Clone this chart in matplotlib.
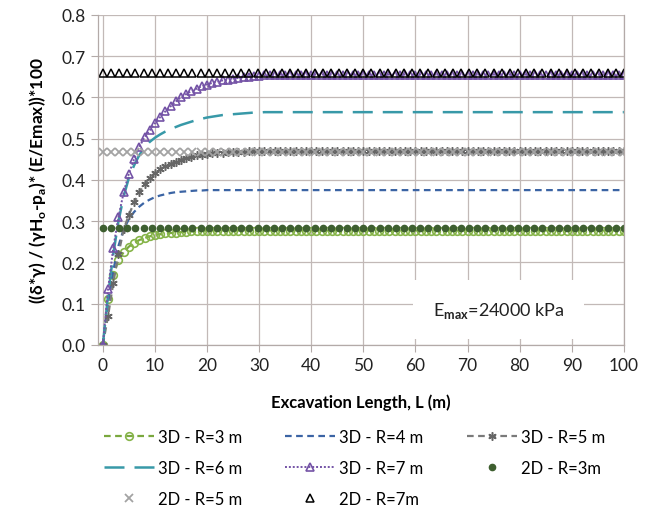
import numpy as np
import matplotlib
matplotlib.use("Agg")
import matplotlib.pyplot as plt

plt.rcParams['font.family'] = ['Lato', 'DejaVu Sans']
plt.rcParams['mathtext.fontset'] = 'custom'
plt.rcParams['mathtext.rm'] = 'Lato'
plt.rcParams['mathtext.bf'] = 'Lato:bold'

# 3D results, one point per metre of excavation
L_3d = np.arange(0, 101)
r3_rise = [0, 0.11, 0.17, 0.205, 0.225, 0.238, 0.247, 0.254, 0.259, 0.263, 0.266,
           0.268, 0.270, 0.271, 0.272, 0.273, 0.274, 0.275, 0.276, 0.276, 0.277]
r4_rise = [0, 0.10, 0.18, 0.24, 0.28, 0.305, 0.322, 0.335, 0.345, 0.352, 0.358,
           0.362, 0.365, 0.368, 0.370, 0.371, 0.372, 0.373, 0.374, 0.374, 0.375]
r5_rise = [0, 0.07, 0.15, 0.22, 0.28, 0.315, 0.345, 0.37, 0.39, 0.405, 0.417,
           0.426, 0.433, 0.439, 0.444, 0.449, 0.453, 0.456, 0.459, 0.461, 0.463,
           0.464, 0.465, 0.466, 0.467, 0.467, 0.468, 0.468, 0.469, 0.469, 0.47]
r6_rise = [0, 0.12, 0.22, 0.30, 0.36, 0.405, 0.435, 0.46, 0.478, 0.492, 0.502,
           0.51, 0.517, 0.523, 0.528, 0.533, 0.537, 0.541, 0.545, 0.548, 0.551,
           0.553, 0.555, 0.557, 0.558, 0.559, 0.56, 0.561, 0.562, 0.563, 0.563, 0.564]
r7_rise = [0, 0.135, 0.235, 0.31, 0.37, 0.415, 0.45, 0.48, 0.503, 0.52, 0.537,
           0.552, 0.566, 0.578, 0.59, 0.60, 0.608, 0.615, 0.621, 0.627, 0.631,
           0.635, 0.638, 0.641, 0.643, 0.645, 0.647, 0.649, 0.65, 0.651, 0.652,
           0.653, 0.654, 0.655]

r3_3d = r3_rise + [0.277] * (101 - len(r3_rise))
r4_3d = r4_rise + [0.375] * (101 - len(r4_rise))
r5_3d = r5_rise + [0.47] * (101 - len(r5_rise))
r6_3d = r6_rise + [0.564] * (101 - len(r6_rise))
r7_3d = r7_rise + [0.655] * (101 - len(r7_rise))

# 2D (plane strain) results, constant with L
L_2d = np.linspace(0, 100, 65)
r3_2d = [0.282] * len(L_2d)
r5_2d = [0.467] * len(L_2d)
r7_2d = [0.66] * len(L_2d)

star = (6, 2, 0)

fig = plt.figure(figsize=(6.51, 5.10), dpi=100)
ax = fig.add_axes([0.150, 0.322, 0.8083, 0.647])

h1, = ax.plot(L_3d, r3_3d, ls=(0, (3, 2)), color='#7aa83e', lw=1.6, marker='o',
              ms=5.5, mfc='none', mec='#86b449', mew=1.2, label='3D - R=3 m')
h2, = ax.plot(L_3d, r4_3d, ls=(0, (3, 2)), color='#3b64a4', lw=1.6, label='3D - R=4 m')
h3, = ax.plot(L_3d, r5_3d, ls=(0, (3, 2)), color='#7a7a7a', lw=1.6, marker=star,
              ms=6, mec='#666666', mew=1.1, label='3D - R=5 m')
h4, = ax.plot(L_3d, r6_3d, ls=(0, (8, 4)), color='#3899a8', lw=1.8, label='3D - R=6 m')
h5, = ax.plot(L_3d, r7_3d, ls=(0, (1, 1)), color='#7453a6', lw=1.4, marker='^',
              ms=6, mfc='none', mec='#7453a6', mew=1.2, label='3D - R=7 m')
h6, = ax.plot(L_2d, r3_2d, ls='none', marker='o', ms=4.5, color='#3e5f30',
              label='2D - R=3m')
h7, = ax.plot(L_2d, r5_2d, ls='none', marker='x', ms=6, mew=1.3, color='#a3a3a3',
              label='2D - R=5 m')
h8, = ax.plot(L_2d, r7_2d, ls='none', marker='^', ms=6, mfc='none', mec='black',
              mew=1.1, label='2D - R=7m')

ax.set_xlim(-1, 100)
ax.set_ylim(0, 0.8)
ax.set_xticks(np.arange(0, 101, 10))
ax.set_yticks(np.arange(0, 0.81, 0.1))
ax.set_yticklabels([f'{v:.1f}' for v in np.arange(0, 0.81, 0.1)])
ax.grid(True, color='#c2b9b7', lw=0.9)
ax.set_axisbelow(True)
for s in ax.spines.values():
    s.set_color('#b3aaa8')
    s.set_linewidth(0.9)
ax.spines['top'].set_visible(False)
ax.tick_params(axis='both', labelsize=12.5, length=5, colors='#222222')
ax.tick_params(axis='both', color='#b3aaa8')

ax.set_xlabel('Excavation Length, L (m)', fontsize=12, fontweight='bold', labelpad=15)
ax.set_ylabel(r'((δ*γ) / (γH$_{\mathbf{o}}$-p$_{\mathbf{a}}$)* (E/Emax))*100',
              fontsize=12.5, fontweight='bold', labelpad=10)

ax.text(76, 0.085, r'E$_{\mathbf{max}}$=24000' + ' ' + r'$\mathrm{kPa}$', fontsize=13,
        ha='center', va='center', color='#222222',
        bbox=dict(facecolor='white', edgecolor='none', pad=14))

handles = [h1, h4, h7, h2, h5, h8, h3, h6]
fig.legend(handles=handles, labels=[h.get_label() for h in handles],
           loc='upper left', bbox_to_anchor=(0.136, 0.186), ncol=3, frameon=False,
           fontsize=12, numpoints=1, handlelength=3.0, handletextpad=0.25,
           columnspacing=2.6, labelspacing=0.9)

fig.savefig('out.png', dpi=100)
